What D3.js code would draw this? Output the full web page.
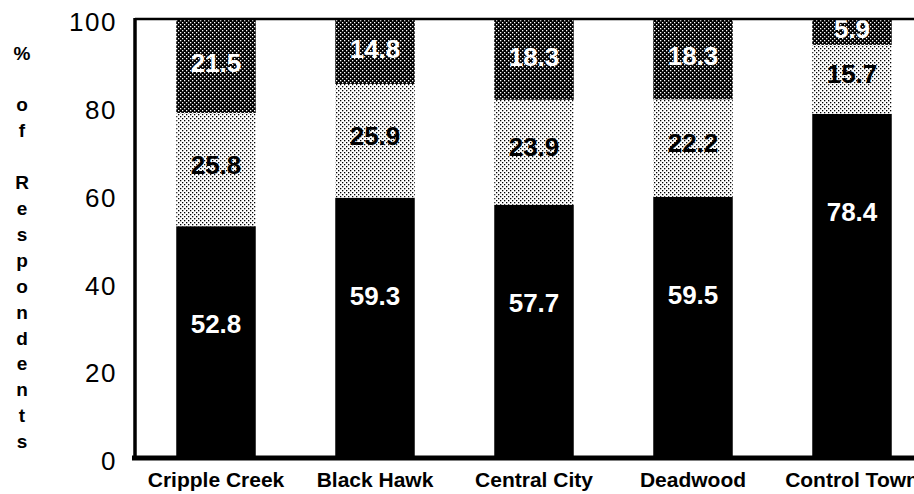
<!DOCTYPE html>
<html>
<head>
<meta charset="utf-8">
<script src="https://cdn.jsdelivr.net/npm/d3@7"></script>
<style>
  html, body { margin: 0; padding: 0; background: #fff; overflow: hidden; }
  svg { display: block; font-family: "Liberation Sans", Arial, Helvetica, sans-serif; }
</style>
</head>
<body>
<div id="chart"></div>
<script>
// data
var sites = ['Cripple Creek', 'Black Hawk', 'Central City', 'Deadwood', 'Control Town'];
var lowShare  = [52.8, 59.3, 57.7, 59.5, 78.4];   // solid black
var midShare  = [25.8, 25.9, 23.9, 22.2, 15.7];   // light dots
var highShare = [21.5, 14.8, 18.3, 18.3, 5.9];    // dark checker
var yTicks = [0, 20, 40, 60, 80, 100];
var yTitle = ['%', '', 'o', 'f', '', 'R', 'e', 's', 'p', 'o', 'n', 'd', 'e', 'n', 't', 's'];

var width = 914,
    height = 494,
    plotLeft = 135,
    plotTop = 19,
    plotBottom = 458;

var svg = d3.select('#chart').append('svg')
    .attr('width', width)
    .attr('height', height);

var defs = svg.append('defs');

// dark checker pattern
var dark = defs.append('pattern')
    .attr('id', 'dark')
    .attr('patternUnits', 'userSpaceOnUse')
    .attr('width', 4).attr('height', 4);
dark.append('rect').attr('width', 4).attr('height', 4).attr('fill', '#000');
dark.append('rect').attr('x', 0).attr('y', 0).attr('width', 1.3).attr('height', 1.3).attr('fill', '#fff');
dark.append('rect').attr('x', 2).attr('y', 2).attr('width', 1.3).attr('height', 1.3).attr('fill', '#fff');

// light dotted pattern
var light = defs.append('pattern')
    .attr('id', 'light')
    .attr('patternUnits', 'userSpaceOnUse')
    .attr('width', 4).attr('height', 4);
light.append('rect').attr('width', 4).attr('height', 4).attr('fill', '#fff');
light.append('rect').attr('x', 0).attr('y', 0).attr('width', 1.3).attr('height', 1.3).attr('fill', '#000');
light.append('rect').attr('x', 2).attr('y', 2).attr('width', 1.3).attr('height', 1.3).attr('fill', '#000');

var x = d3.scaleBand()
    .domain(sites)
    .range([136.5, 931.5])
    .paddingInner(0.5)
    .paddingOuter(0.25);

var y = d3.scaleLinear()
    .domain([0, 100])
    .range([plotBottom, plotTop]);

var rows = sites.map(function(s, i) {
    return { site: s, low: lowShare[i], mid: midShare[i], high: highShare[i] };
});

var stack = d3.stack().keys(['low', 'mid', 'high']);
var series = stack(rows);

var fills = { low: '#000', mid: 'url(#light)', high: 'url(#dark)' };
var textFill = { low: '#fff', mid: '#000', high: '#fff' };

var bars = svg.append('g').attr('class', 'bars');

series.forEach(function(s) {
    bars.append('g')
        .selectAll('rect')
        .data(s)
        .enter().append('rect')
        .attr('x', function(d) { return x(d.data.site); })
        .attr('width', x.bandwidth())
        .attr('y', function(d) { return y(Math.min(100, d[1])); })
        .attr('height', function(d) { return y(d[0]) - y(Math.min(100, d[1])); })
        .attr('fill', fills[s.key]);
});

// value labels
series.forEach(function(s) {
    bars.append('g')
        .selectAll('text')
        .data(s)
        .enter().append('text')
        .attr('x', function(d) { return x(d.data.site) + x.bandwidth() / 2; })
        .attr('y', function(d) {
            var y0 = y(d[0]), y1 = y(Math.min(100, d[1]));
            if (s.key === 'low') return y1 + 98;
            return (y0 + y1) / 2 - (s.key === 'mid' ? 5 : 3);
        })
        .attr('dy', '0.35em')
        .attr('text-anchor', 'middle')
        .attr('font-size', 26)
        .attr('font-weight', 'bold')
        .attr('fill', textFill[s.key])
        .text(function(d) { return d.data[s.key].toFixed(1); });
});

// frame lines
svg.append('line')
    .attr('x1', plotLeft).attr('x2', width)
    .attr('y1', plotTop).attr('y2', plotTop)
    .attr('stroke', '#000').attr('stroke-width', 2.5);
svg.append('line')
    .attr('x1', plotLeft).attr('x2', plotLeft)
    .attr('y1', plotTop - 1).attr('y2', plotBottom)
    .attr('stroke', '#000').attr('stroke-width', 3.5);
svg.append('line')
    .attr('x1', 132).attr('x2', width)
    .attr('y1', plotBottom).attr('y2', plotBottom)
    .attr('stroke', '#000').attr('stroke-width', 5);

// y axis labels
var yAxis = svg.append('g')
    .attr('transform', 'translate(' + plotLeft + ',0)')
    .call(d3.axisLeft(y).tickValues(yTicks).tickSize(0).tickPadding(18));
yAxis.select('.domain').remove();
yAxis.selectAll('text')
    .attr('font-family', '"Liberation Sans", Arial, sans-serif')
    .attr('font-size', 26)
    .attr('letter-spacing', 1.5)
    .attr('dy', '0.45em')
    .attr('fill', '#000');

// x axis labels
svg.append('g')
    .selectAll('text')
    .data(sites)
    .enter().append('text')
    .attr('x', function(d) { return x(d) + x.bandwidth() / 2; })
    .attr('y', 487)
    .attr('text-anchor', 'middle')
    .attr('font-size', 21)
    .attr('font-weight', 'bold')
    .text(function(d) { return d; });

// vertical stacked y title
svg.append('g')
    .selectAll('text')
    .data(yTitle)
    .enter().append('text')
    .attr('x', 22)
    .attr('y', function(d, i) { return 53 + i * 25.9; })
    .attr('dy', '0.35em')
    .attr('text-anchor', 'middle')
    .attr('font-size', 19)
    .attr('font-weight', 'bold')
    .text(function(d) { return d; });
</script>
</body>
</html>
